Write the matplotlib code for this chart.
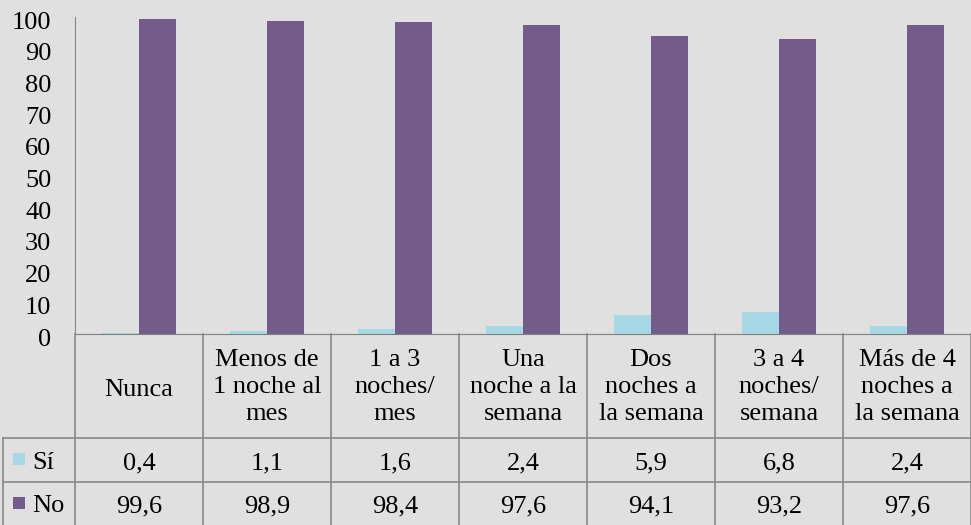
import matplotlib
matplotlib.use("Agg")
import matplotlib.pyplot as plt
from matplotlib.lines import Line2D
from matplotlib.patches import Rectangle
from matplotlib.transforms import ScaledTranslation

categories = ["Nunca", "Menos de\n1 noche al\nmes", "1 a 3\nnoches/\nmes",
              "Una\nnoche a la\nsemana", "Dos\nnoches a\nla semana",
              "3 a 4\nnoches/\nsemana", "Más de 4\nnoches a\nla semana"]
series_names = ["Sí", "No"]
si_values = [0.4, 1.1, 1.6, 2.4, 5.9, 6.8, 2.4]
no_values = [99.6, 98.9, 98.4, 97.6, 94.1, 93.2, 97.6]
si_labels = ["0,4", "1,1", "1,6", "2,4", "5,9", "6,8", "2,4"]
no_labels = ["99,6", "98,9", "98,4", "97,6", "94,1", "93,2", "97,6"]
yticks = list(range(0, 101, 10))

plt.rcParams['font.family'] = ['Liberation Serif', 'DejaVu Serif']

W, H = 971, 525
BG = "#E0E0E0"
C_SI = "#A6D8E6"
C_NO = "#735C8C"
GRID = "#888888"
FS = 19

fig = plt.figure(figsize=(W/100, H/100), dpi=100, facecolor=BG)

def fx(px):
    return px / W

def fy(py):
    return 1 - py / H

ax_left, ax_right, ax_top, ax_bottom = 75, 971, 17.3, 334
ax = fig.add_axes([fx(ax_left), fy(ax_bottom), fx(ax_right - ax_left), (ax_bottom - ax_top) / H])
ax.set_facecolor(BG)

n = len(categories)
x = list(range(n))
bw = 0.29
ax.bar([i - bw/2 for i in x], si_values, width=bw, color=C_SI, label=series_names[0])
ax.bar([i + bw/2 for i in x], no_values, width=bw, color=C_NO, label=series_names[1])
ax.set_xlim(-0.5, n - 0.5)
ax.set_ylim(0, 100)
ax.set_yticks(yticks)
ax.set_yticklabels([str(t) for t in yticks], fontsize=FS)
ax.tick_params(axis='y', length=0, pad=17)
off = ScaledTranslation(0, -3/100, fig.dpi_scale_trans)
for lab in ax.get_yticklabels():
    lab.set_transform(lab.get_transform() + off)
ax.set_xticks([])
for s in ["top", "right"]:
    ax.spines[s].set_visible(False)
ax.spines["left"].set_color(GRID)
ax.spines["bottom"].set_color("#7f7f7f")

# table
col_w = (ax_right - ax_left) / n
header_bottom = 438
row1_bottom = 482
row2_bottom = 525
lines = []
for i in range(n + 1):
    xp = ax_left + i * col_w
    if i == n:
        xp = W - 0.5
    lines.append(((xp, xp), (ax_bottom, row2_bottom)))
lines.append(((3, 3), (header_bottom, row2_bottom)))
lines.append(((3, W), (header_bottom, header_bottom)))
lines.append(((3, W), (row1_bottom, row1_bottom)))
for (xs, ys) in lines:
    fig.add_artist(Line2D([fx(v) for v in xs], [fy(v) for v in ys],
                          color=GRID, lw=1.2, transform=fig.transFigure))

for i in range(n):
    cx = ax_left + (i + 0.5) * col_w
    dy = 4 if "\n" not in categories[i] else 1
    fig.text(fx(cx), fy((ax_bottom + header_bottom) / 2 + dy), categories[i],
             ha="center", va="center", fontsize=FS, linespacing=1.29)
    fig.text(fx(cx), fy((header_bottom + row1_bottom) / 2 + 3), si_labels[i],
             ha="center", va="center", fontsize=FS)
    fig.text(fx(cx), fy((row1_bottom + row2_bottom) / 2 + 3), no_labels[i],
             ha="center", va="center", fontsize=FS)

# legend keys in table
for name, color, top, bot in [(series_names[0], C_SI, header_bottom, row1_bottom),
                              (series_names[1], C_NO, row1_bottom, row2_bottom)]:
    cy = (top + bot) / 2
    sq = 12
    fig.add_artist(Rectangle((fx(13), fy(cy + 5)), fx(sq), sq / H,
                             facecolor=color, edgecolor="none", transform=fig.transFigure))
    fig.text(fx(32), fy(cy + 3), name, ha="left", va="center", fontsize=FS)

fig.savefig("out.png", dpi=100, facecolor=BG)
